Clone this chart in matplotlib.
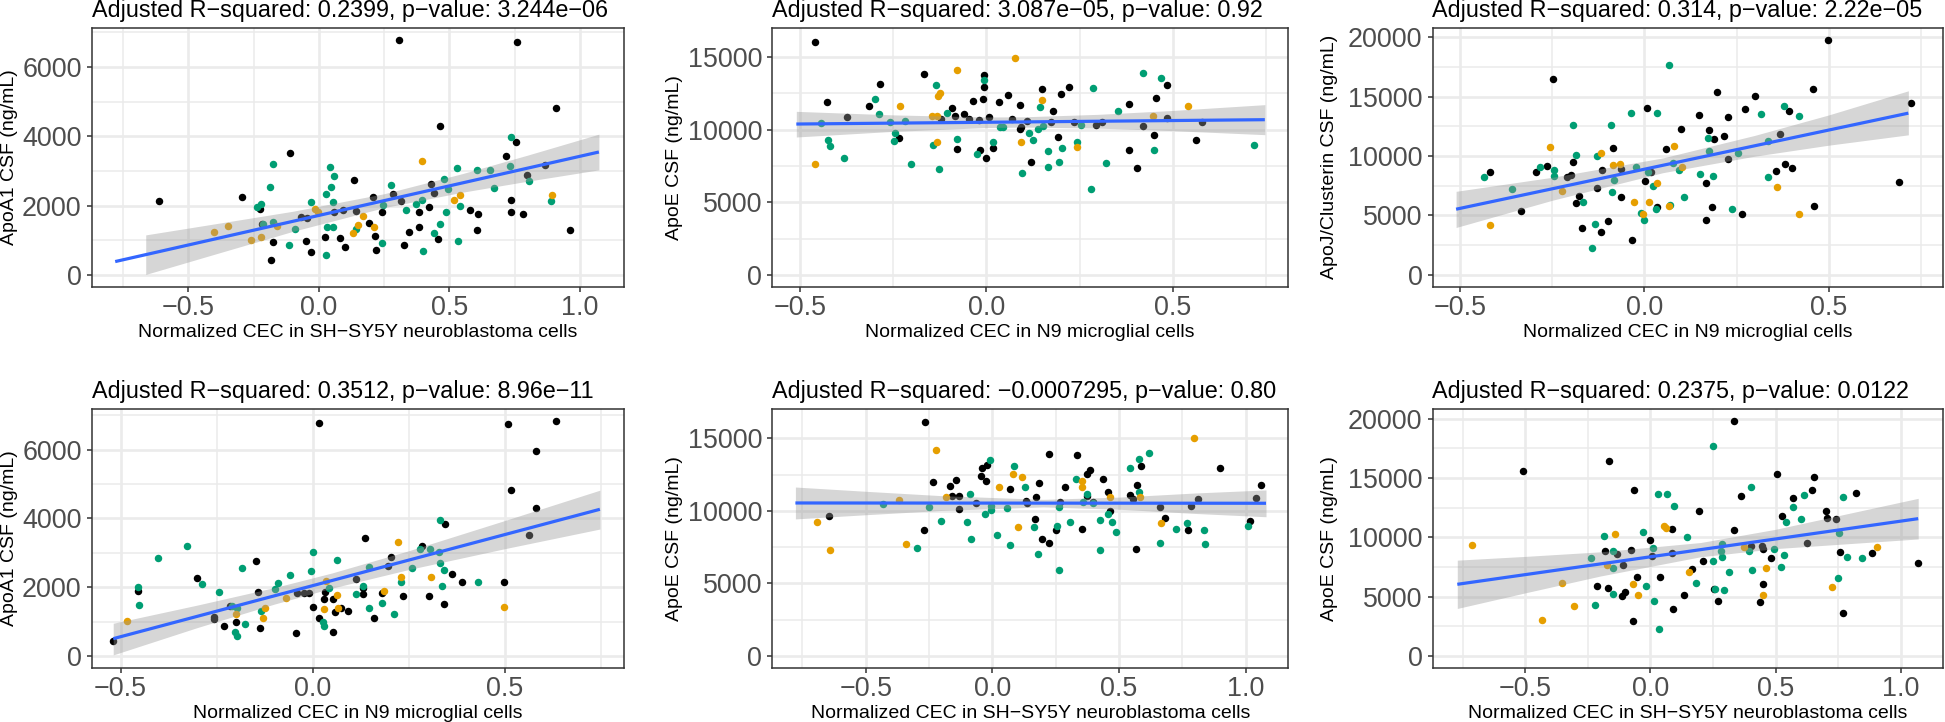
import matplotlib as mpl
mpl.use('agg')
import numpy as np
import matplotlib.pyplot as plt
from matplotlib.ticker import MultipleLocator, FuncFormatter

plt.rcParams['font.family'] = ['Liberation Sans', 'DejaVu Sans']

# ---- panel 1: ApoA1 vs SH-SY5Y CEC ----
p1_kx = [-0.613, -0.294, -0.227, -0.217, -0.175, -0.184, -0.110, -0.050, -0.028, -0.068,
         -0.044, 0.057, 0.091, 0.024, 0.083, 0.102, 0.134, 0.144, 0.193, 0.207,
         0.215, 0.218, 0.241, 0.285, 0.307, 0.314, 0.328, 0.346, 0.385, 0.383,
         0.421, 0.429, 0.440, 0.455, 0.466, 0.579, 0.605, 0.608, 0.717, 0.735,
         0.738, 0.757, 0.759, 0.782, 0.798, 0.866, 0.908, 0.964]
p1_ky = [2129, 2245, 1898, 1464, 944, 434, 3507, 983, 674, 1676,
         1647, 1811, 1869, 1098, 1079, 819, 2746, 1840, 1503, 2245,
         1127, 713, 1821, 2331, 6763, 2139, 867, 1252, 1802, 1378,
         1965, 2611, 2360, 1050, 4287, 1859, 1281, 1753, 3430, 2148,
         1821, 3834, 6725, 1744, 2871, 3179, 4817, 1281]
p1_gx = [-0.235, -0.220, -0.212, -0.186, -0.175, -0.175, -0.113, -0.092, -0.029, 0.028,
         0.031, 0.029, 0.044, 0.047, 0.057, 0.053, 0.053, 0.141, 0.241, 0.246,
         0.275, 0.335, 0.374, 0.396, 0.398, 0.440, 0.464, 0.479, 0.487, 0.494,
         0.531, 0.539, 0.532, 0.605, 0.657, 0.672, 0.731, 0.736, 0.804, 0.890]
p1_gy = [1946, 2033, 1474, 2543, 3189, 1532, 877, 1310, 2110, 2341,
         1378, 588, 3102, 2534, 2842, 1387, 2100, 1320, 925, 2004,
         2582, 1859, 2033, 2148, 694, 1204, 1455, 2775, 1802, 2466,
         3083, 1975, 973, 3015, 3025, 2495, 3141, 3969, 2707, 2139]
p1_ox = [-0.403, -0.348, -0.261, -0.222, -0.162, -0.016, -0.002, 0.131, 0.149, 0.168,
         0.212, 0.396, 0.516, 0.539, 0.892]
p1_oy = [1243, 1397, 1021, 1089, 1397, 1908, 1811, 1214, 1435, 1696,
         1378, 3295, 2158, 2303, 2293]
p1_lx = [-0.780, 1.073]
p1_ly = [385, 3545]
p1_bx = [-0.663, -0.4, -0.1, 0.25, 0.55, 0.8, 1.073]
p1_blo = [14, 595, 1255, 1941, 2385, 2703, 3030]
p1_bhi = [1154, 1471, 1835, 2341, 2921, 3455, 4060]

# ---- panel 2: ApoE vs N9 CEC ----
p2_kx = [-0.460, -0.428, -0.374, -0.314, -0.285, -0.234, -0.167, -0.123, -0.092, -0.085,
         -0.079, -0.060, -0.048, -0.035, -0.021, -0.016, -0.007, -0.006, -0.008, -0.002,
         0.008, 0.017, 0.033, 0.057, 0.070, 0.090, 0.089, 0.093, 0.110, 0.119,
         0.149, 0.172, 0.179, 0.191, 0.199, 0.222, 0.235, 0.295, 0.311, 0.382,
         0.382, 0.404, 0.421, 0.451, 0.455, 0.484, 0.484, 0.562, 0.579]
p2_ky = [16056, 11898, 10865, 11600, 13116, 9395, 13851, 10727, 11485, 10934,
         8683, 11049, 10704, 11990, 10635, 8614, 13759, 12909, 12082, 8017,
         10842, 8706, 11898, 12381, 10727, 11692, 10015, 10199, 10566, 7787,
         12771, 10543, 11278, 9487, 12473, 12909, 10497, 10291, 10520, 11738,
         8614, 7373, 10222, 9601, 12151, 13047, 10796, 9257, 10497]
p2_gx = [-0.443, -0.426, -0.420, -0.383, -0.298, -0.288, -0.260, -0.245, -0.247, -0.218,
         -0.202, -0.143, -0.135, -0.128, -0.106, -0.079, -0.026, -0.006, 0.019, 0.036,
         0.045, 0.095, 0.113, 0.124, 0.138, 0.143, 0.152, 0.164, 0.166, 0.196,
         0.204, 0.242, 0.255, 0.285, 0.281, 0.322, 0.354, 0.421, 0.451, 0.469,
         0.717]
p2_gy = [10428, 9280, 8889, 8062, 12128, 11095, 10497, 9739, 9211, 10612,
         7626, 8912, 13093, 7281, 11140, 9326, 8292, 13437, 9165, 10199,
         10176, 7029, 9762, 9257, 10015, 11554, 10222, 8545, 7442, 7787,
         8752, 9142, 10314, 12886, 5880, 7695, 11278, 13897, 8614, 13552,
         8935]
p2_ox = [-0.460, -0.231, -0.147, -0.133, -0.133, -0.131, -0.124, -0.079, 0.077, 0.094,
         0.149, 0.244, 0.448, 0.541]
p2_oy = [7649, 11600, 10934, 10911, 9165, 12289, 12519, 14127, 14953, 9119,
         12013, 8797, 10911, 11623]
p2_lx = [-0.510, 0.747]
p2_ly = [10382, 10681]
p2_bx = [-0.51, -0.25, 0.0, 0.1, 0.3, 0.5, 0.747]
p2_blo = [9490, 9877, 10140, 10175, 10101, 9928, 9650]
p2_bhi = [11255, 11011, 10866, 10879, 11049, 11316, 11715]

# ---- panel 3: ApoJ/Clusterin vs N9 CEC ----
p3_kx = [-0.418, -0.334, -0.294, -0.265, -0.248, -0.211, -0.198, -0.193, -0.185, -0.178,
         -0.169, -0.128, -0.119, -0.114, -0.098, -0.085, -0.064, -0.064, -0.034, 0.002,
         0.008, 0.017, 0.034, 0.058, 0.099, 0.148, 0.168, 0.166, 0.176, 0.182,
         0.190, 0.197, 0.217, 0.228, 0.228, 0.264, 0.274, 0.301, 0.358, 0.367,
         0.382, 0.392, 0.400, 0.458, 0.459, 0.497, 0.691, 0.722]
p3_ky = [8639, 5386, 8696, 9200, 16465, 8275, 8415, 9509, 6031, 6620,
         3927, 7293, 3590, 8808, 4544, 10715, 6592, 8948, 2945, 7938,
         14025, 8667, 5694, 10603, 12258, 13436, 7714, 4628, 12146, 5694,
         11472, 15343, 11641, 13268, 9733, 5133, 13969, 15063, 8752, 11809,
         9313, 13745, 9032, 15624, 5834, 19747, 7854, 14418]
p3_gx = [-0.435, -0.359, -0.282, -0.245, -0.245, -0.195, -0.185, -0.167, -0.143, -0.133,
         -0.128, -0.090, -0.089, -0.082, -0.036, -0.022, -0.008, 0.000, 0.011, 0.024,
         0.031, 0.035, 0.068, 0.067, 0.077, 0.094, 0.108, 0.151, 0.172, 0.174,
         0.186, 0.238, 0.253, 0.315, 0.335, 0.336, 0.378, 0.418]
p3_gy = [8275, 7265, 9060, 8808, 8359, 12594, 10098, 6171, 2244, 4264,
         10014, 12566, 6984, 7966, 13632, 9088, 5189, 4600, 8667, 7489,
         5582, 13632, 5918, 17643, 9453, 8808, 6536, 8471, 11500, 10435,
         8331, 5526, 10294, 13520, 11248, 8219, 14221, 13352]
p3_ox = [-0.419, -0.256, -0.224, -0.119, -0.085, -0.065, -0.028, -0.005, 0.013, 0.035,
         0.066, 0.081, 0.102, 0.360, 0.420]
p3_oy = [4208, 10771, 7041, 10266, 9228, 9369, 6115, 5161, 6115, 7742,
         5806, 10883, 9116, 7405, 5105]
p3_lx = [-0.511, 0.716]
p3_ly = [5526, 13604]
p3_bx = [-0.511, -0.25, 0.05, 0.3, 0.5, 0.716]
p3_blo = [3990, 6279, 8599, 9990, 10910, 11781]
p3_bhi = [7030, 8211, 9839, 11740, 13454, 15484]

# ---- panel 4: ApoA1 vs N9 CEC ----
p4_kx = [-0.520, -0.455, -0.300, -0.257, -0.257, -0.230, -0.215, -0.199, -0.147, -0.143,
         -0.138, -0.042, -0.040, -0.023, -0.010, 0.001, 0.016, 0.016, 0.031, 0.033,
         0.053, 0.053, 0.059, 0.073, 0.092, 0.113, 0.132, 0.132, 0.136, 0.159,
         0.182, 0.196, 0.204, 0.236, 0.284, 0.302, 0.343, 0.345, 0.363, 0.390,
         0.498, 0.509, 0.516, 0.564, 0.581, 0.582, 0.633]
p4_ky = [424, 1891, 2257, 1061, 1129, 868, 1466, 974, 2749, 1871,
         810, 666, 1842, 1833, 1833, 1437, 6771, 1100, 1659, 1871,
         1649, 704, 1264, 1399, 1302, 2228, 1977, 1813, 3434, 1090,
         1833, 2614, 2865, 1746, 3193, 1756, 1505, 3839, 2373, 2141,
         2151, 6743, 4823, 3511, 5961, 4292, 6829]
p4_gx = [-0.455, -0.451, -0.402, -0.327, -0.287, -0.244, -0.209, -0.198, -0.203, -0.196,
         -0.184, -0.176, -0.133, -0.099, -0.090, -0.059, -0.005, 0.002, 0.026, 0.031,
         0.043, 0.063, 0.112, 0.132, 0.146, 0.147, 0.181, 0.212, 0.229, 0.259,
         0.279, 0.305, 0.330, 0.332, 0.331, 0.337, 0.343, 0.431]
p4_gy = [2006, 1476, 2846, 3193, 2103, 1871, 1466, 1408, 694, 588,
         2556, 916, 1302, 1949, 2122, 2344, 2479, 3019, 984, 868,
         1968, 2788, 1804, 2045, 2595, 1399, 1534, 1206, 2161, 2547,
         3096, 3106, 3029, 2711, 3965, 2035, 2508, 2151]
p4_ox = [-0.484, -0.200, -0.129, -0.123, -0.068, 0.031, 0.036, 0.063, 0.067, 0.187,
         0.223, 0.229, 0.309, 0.499]
p4_oy = [1022, 1215, 1100, 1408, 1678, 1379, 2180, 1775, 1408, 1900,
         3299, 2305, 2305, 1437]
p4_lx = [-0.519, 0.748]
p4_ly = [502, 4264]
p4_bx = [-0.519, -0.3, -0.1, 0.05, 0.25, 0.5, 0.748]
p4_blo = [30, 825, 1506, 1971, 2512, 3118, 3690]
p4_bhi = [950, 1479, 1986, 2411, 3058, 3936, 4820]

# ---- panel 5: ApoE vs SH-SY5Y CEC ----
p5_kx = [-0.645, -0.267, -0.272, -0.233, -0.167, -0.158, -0.145, -0.132, -0.133, -0.065,
         -0.045, -0.042, -0.023, -0.027, 0.068, 0.133, 0.138, 0.170, 0.168, 0.185,
         0.197, 0.225, 0.225, 0.252, 0.268, 0.285, 0.333, 0.352, 0.372, 0.373,
         0.385, 0.397, 0.438, 0.455, 0.465, 0.542, 0.553, 0.567, 0.572, 0.588,
         0.662, 0.682, 0.772, 0.783, 0.810, 0.898, 1.018, 1.040, 1.062]
p5_ky = [9624, 16133, 8655, 11979, 11748, 11009, 12117, 11032, 10155, 10548,
         12440, 12948, 13179, 12048, 11540, 10686, 10548, 10963, 9440, 11955,
         8078, 7824, 13894, 8655, 10617, 11655, 13825, 8747, 11055, 12556,
         12856, 10640, 12209, 11332, 10017, 11125, 10801, 7409, 11771, 13086,
         10248, 9532, 8701, 10317, 10801, 12971, 9324, 10894, 11817]
p5_gx = [-0.433, -0.297, -0.252, -0.203, -0.100, -0.088, -0.083, -0.028, -0.010, -0.007,
         -0.005, 0.018, 0.058, 0.070, 0.087, 0.130, 0.163, 0.178, 0.255, 0.263,
         0.262, 0.308, 0.328, 0.357, 0.373, 0.395, 0.423, 0.423, 0.458, 0.470,
         0.488, 0.542, 0.578, 0.580, 0.617, 0.663, 0.725, 0.768, 0.835, 0.838,
         1.008]
p5_gy = [10455, 7455, 10271, 9301, 9255, 11148, 8078, 9786, 13525, 10040,
         10363, 8355, 10201, 7663, 13133, 11632, 8909, 7062, 8955, 10248,
         5932, 9209, 12186, 10640, 11171, 10524, 9347, 7339, 9809, 9255,
         8563, 12971, 13617, 11309, 13963, 7824, 8770, 9186, 8655, 7709,
         8978]
p5_ox = [-0.693, -0.643, -0.370, -0.343, -0.223, -0.185, 0.025, 0.083, 0.100, 0.117,
         0.352, 0.355, 0.463, 0.582, 0.665, 0.797]
p5_oy = [9209, 7316, 10755, 7709, 14171, 10940, 11655, 12579, 8863, 12348,
         12048, 11655, 10963, 10986, 9186, 15002]
p5_lx = [-0.778, 1.080]
p5_ly = [10550, 10530]
p5_bx = [-0.778, -0.5, -0.2, 0.2, 0.5, 0.8, 1.080]
p5_blo = [9450, 9739, 10035, 10280, 10118, 9828, 9600]
p5_bhi = [11650, 11355, 11053, 10800, 10954, 11238, 11450]

# ---- panel 6: "ApoE" vs SH-SY5Y CEC ----
p6_kx = [-0.508, -0.213, -0.183, -0.168, -0.165, -0.132, -0.114, -0.111, -0.102, -0.078,
         -0.069, -0.064, -0.054, -0.003, 0.008, 0.040, 0.087, 0.086, 0.089, 0.134,
         0.165, 0.195, 0.210, 0.254, 0.271, 0.335, 0.335, 0.361, 0.401, 0.437,
         0.447, 0.450, 0.450, 0.483, 0.505, 0.525, 0.568, 0.627, 0.645, 0.653,
         0.700, 0.705, 0.739, 0.756, 0.769, 0.820, 0.883, 1.069]
p6_ky = [15618, 5871, 8820, 5702, 16461, 8624, 5028, 7669, 5421, 8961,
         2949, 14017, 6629, 9747, 8427, 6629, 10730, 8708, 3933, 5112,
         7331, 12247, 7978, 5674, 4663, 19775, 10590, 13455, 9270, 4522,
         9242, 9017, 6039, 8287, 15365, 11798, 13287, 9523, 13961, 15056,
         12191, 11629, 11517, 8764, 3624, 13736, 8680, 7865]
p6_gx = [-0.239, -0.223, -0.186, -0.150, -0.150, -0.150, -0.028, -0.017, 0.012, 0.015,
         0.031, 0.035, 0.066, 0.096, 0.147, 0.183, 0.248, 0.248, 0.257, 0.282,
         0.285, 0.285, 0.295, 0.315, 0.394, 0.401, 0.404, 0.495, 0.523, 0.535,
         0.540, 0.571, 0.601, 0.612, 0.748, 0.752, 0.767, 0.784, 0.843]
p6_gy = [8258, 4270, 10112, 8848, 7444, 5197, 10421, 5899, 9101, 4635,
         13652, 2247, 13652, 12612, 10028, 6152, 17669, 8006, 5674, 8820,
         8343, 9466, 5534, 7051, 8820, 14242, 7275, 9045, 7500, 8483,
         11264, 12556, 11545, 13539, 6573, 10393, 13371, 8343, 8230]
p6_ox = [-0.713, -0.431, -0.353, -0.307, -0.172, -0.142, -0.071, -0.051, 0.056, 0.061,
         0.153, 0.373, 0.449, 0.462, 0.723, 0.904]
p6_oy = [9354, 3034, 6152, 4214, 7697, 10309, 6096, 5112, 10955, 10758,
         7107, 9185, 5112, 7388, 5787, 9157]
p6_lx = [-0.771, 1.069]
p6_ly = [6039, 11573]
p6_bx = [-0.771, -0.5, -0.2, 0.2, 0.5, 0.8, 1.069]
p6_blo = [4003, 5317, 6737, 8360, 9049, 9477, 9860]
p6_bhi = [8075, 8391, 8777, 9560, 10677, 12053, 13286]

titles = ["Adjusted R\u2212squared: 0.2399, p\u2212value: 3.244e\u221206",
          "Adjusted R\u2212squared: 3.087e\u221205, p\u2212value: 0.92",
          "Adjusted R\u2212squared: 0.314, p\u2212value: 2.22e\u221205",
          "Adjusted R\u2212squared: 0.3512, p\u2212value: 8.96e\u221211",
          "Adjusted R\u2212squared: \u22120.0007295, p\u2212value: 0.80",
          "Adjusted R\u2212squared: 0.2375, p\u2212value: 0.0122"]
sh = "Normalized CEC in SH\u2212SY5Y neuroblastoma cells"
n9 = "Normalized CEC in N9 microglial cells"
xlabels = [sh, n9, n9, n9, sh, sh]
ylabels = ["ApoA1 CSF (ng/mL)", "ApoE CSF (ng/mL)", "ApoJ/Clusterin CSF (ng/mL)",
           "ApoA1 CSF (ng/mL)", "ApoE CSF (ng/mL)", "ApoE CSF (ng/mL)"]
xlims = [(-0.87, 1.168), (-0.575, 0.81), (-0.575, 0.81),
         (-0.575, 0.81), (-0.87, 1.168), (-0.87, 1.168)]
ylims = [(-340, 7130), (-810, 17010), (-990, 20790),
         (-342, 7172), (-810, 17010), (-990, 20790)]
ysteps = [2000, 5000, 5000, 2000, 5000, 5000]

panels = [
    (p1_kx, p1_ky, p1_gx, p1_gy, p1_ox, p1_oy, p1_lx, p1_ly, p1_bx, p1_blo, p1_bhi),
    (p2_kx, p2_ky, p2_gx, p2_gy, p2_ox, p2_oy, p2_lx, p2_ly, p2_bx, p2_blo, p2_bhi),
    (p3_kx, p3_ky, p3_gx, p3_gy, p3_ox, p3_oy, p3_lx, p3_ly, p3_bx, p3_blo, p3_bhi),
    (p4_kx, p4_ky, p4_gx, p4_gy, p4_ox, p4_oy, p4_lx, p4_ly, p4_bx, p4_blo, p4_bhi),
    (p5_kx, p5_ky, p5_gx, p5_gy, p5_ox, p5_oy, p5_lx, p5_ly, p5_bx, p5_blo, p5_bhi),
    (p6_kx, p6_ky, p6_gx, p6_gy, p6_ox, p6_oy, p6_lx, p6_ly, p6_bx, p6_blo, p6_bhi),
]

W, H = 1945.0, 722.0
fig = plt.figure(figsize=(W / 100, H / 100), dpi=100)

# pixel layout of panels (left, width) / (top, bottom)
cols = [(91.7, 532.0), (772.1, 516.2), (1432.5, 510.5)]
rows = [(27.7, 286.7), (409.3, 667.7)]
ylab_x = [10.0, 674.5, 1330.0]

xfmt = FuncFormatter(lambda v, p: ("%.1f" % v).replace('-', '\u2212'))
yfmt = FuncFormatter(lambda v, p: ("%d" % v))

for i, d in enumerate(panels):
    kx, ky, gx, gy, ox, oy, lx, ly, bx, blo, bhi = d
    r, c = divmod(i, 3)
    left, wd = cols[c]
    top, bot = rows[r]
    ax = fig.add_axes([left / W, 1 - bot / H, wd / W, (bot - top) / H])

    ax.scatter(kx, ky, s=29, color='black', lw=0, zorder=2)
    ax.scatter(gx, gy, s=29, color='#009E73', lw=0, zorder=2)
    ax.scatter(ox, oy, s=29, color='#E69F00', lw=0, zorder=2)
    ax.fill_between(bx, blo, bhi, color='#999999', alpha=0.4, lw=0, zorder=3)
    ax.plot(lx, ly, color='#3366FF', lw=2.3, zorder=4, solid_capstyle='butt')

    ax.set_xlim(*xlims[i])
    ax.set_ylim(*ylims[i])
    ax.xaxis.set_major_locator(MultipleLocator(0.5))
    ax.xaxis.set_minor_locator(MultipleLocator(0.25))
    ax.yaxis.set_major_locator(MultipleLocator(ysteps[i]))
    ax.yaxis.set_minor_locator(MultipleLocator(ysteps[i] / 2))
    ax.xaxis.set_major_formatter(xfmt)
    ax.yaxis.set_major_formatter(yfmt)

    ax.set_axisbelow(True)
    ax.grid(True, which='major', color='#EBEBEB', lw=1.9)
    ax.grid(True, which='minor', color='#EBEBEB', lw=1.1)
    for s in ax.spines.values():
        s.set_color('#333333')
        s.set_linewidth(1.1)
    ax.tick_params(which='major', length=3.6, width=1.1, color='#333333',
                   labelsize=19.4, labelcolor='#4D4D4D')
    ax.tick_params(axis='x', which='major', pad=2.5)
    ax.tick_params(axis='y', which='major', pad=3.6)
    ax.tick_params(which='minor', length=0)

    ax.annotate(titles[i], (0, 1), xycoords='axes fraction', xytext=(0, 7.9),
                textcoords='offset points', ha='left', va='baseline', fontsize=16.8)
    ax.annotate(xlabels[i], (0.5, 0), xycoords='axes fraction', xytext=(0, -36.4),
                textcoords='offset points', ha='center', va='baseline', fontsize=14)
    fig.text(ylab_x[c] / W, 1 - (top + bot) / 2 / H, ylabels[i], rotation=90,
             ha='center', va='center', fontsize=14)

plt.savefig("out.png", dpi=100)
